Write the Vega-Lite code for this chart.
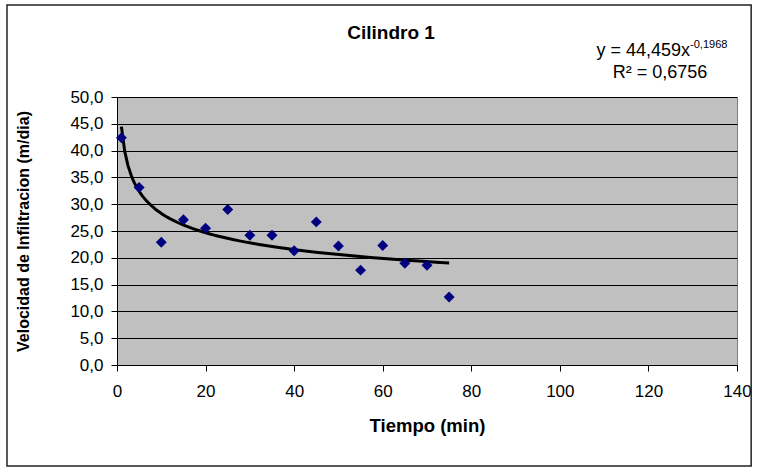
{
  "$schema": "https://vega.github.io/schema/vega-lite/v6.json",
  "width": 620,
  "height": 268,
  "autosize": {"type": "none"},
  "padding": {"left": 117, "top": 97, "right": 20, "bottom": 103},
  "background": "white",
  "config": {
    "font": "Liberation Sans",
    "locale": {"number": {"decimal": ",", "thousands": ".", "grouping": [3], "currency": ["", " €"]}},
    "view": {"fill": "#C0C0C0", "stroke": "#808080", "strokeWidth": 1}
  },
  "datasets": {
    "obs": [
      {"t": 1, "v": 42.4},
      {"t": 5, "v": 33.1},
      {"t": 10, "v": 22.9},
      {"t": 15, "v": 27.1},
      {"t": 20, "v": 25.5},
      {"t": 25, "v": 29.0},
      {"t": 30, "v": 24.2},
      {"t": 35, "v": 24.2},
      {"t": 40, "v": 21.3},
      {"t": 45, "v": 26.7},
      {"t": 50, "v": 22.2},
      {"t": 55, "v": 17.7},
      {"t": 60, "v": 22.3},
      {"t": 65, "v": 19.0},
      {"t": 70, "v": 18.6},
      {"t": 75, "v": 12.7}
    ]
  },
  "layer": [
    {
      "data": {"name": "obs"},
      "transform": [{"regression": "v", "on": "t", "method": "pow", "extent": [1, 75]}],
      "mark": {"type": "line", "color": "black", "strokeWidth": 3},
      "encoding": {
        "x": {
          "field": "t", "type": "quantitative",
          "scale": {"domain": [0, 140], "nice": false, "zero": false},
          "axis": {
            "title": "Tiempo (min)",
            "values": [0, 20, 40, 60, 80, 100, 120, 140],
            "tickCount": 50,
            "format": "d",
            "grid": false,
            "domainColor": "black", "domainWidth": 1,
            "tickColor": "black", "tickSize": 6, "tickWidth": 1,
            "labelFont": "Liberation Sans", "labelFontSize": 17, "labelColor": "black",
            "labelPadding": 12, "labelFlush": false, "labelOverlap": false,
            "titleFont": "Liberation Sans", "titleFontSize": 18.5, "titleFontWeight": "bold",
            "titleColor": "black", "titlePadding": 17
          }
        },
        "y": {
          "field": "v", "type": "quantitative",
          "scale": {"domain": [0, 50], "nice": false},
          "axis": {
            "title": "Velocidad de Infiltracion (m/dia)",
            "values": [0, 5, 10, 15, 20, 25, 30, 35, 40, 45, 50],
            "tickCount": 50,
            "format": ".1f",
            "grid": true, "gridColor": "black", "gridOpacity": 1, "gridWidth": 1,
            "domainColor": "black", "domainWidth": 1,
            "tickColor": "black", "tickSize": 6, "tickWidth": 1,
            "labelFont": "Liberation Sans", "labelFontSize": 17, "labelColor": "black",
            "labelPadding": 8, "labelOverlap": false, "labelFlush": false,
            "titleFont": "Liberation Sans", "titleFontSize": 16, "titleFontWeight": "bold",
            "titleColor": "black", "titlePadding": 38
          }
        }
      }
    },
    {
      "data": {"name": "obs"},
      "mark": {"type": "point", "shape": "diamond", "filled": true, "color": "#000080", "size": 120, "opacity": 1},
      "encoding": {
        "x": {"field": "t", "type": "quantitative"},
        "y": {"field": "v", "type": "quantitative"}
      }
    },
    {
      "data": {"values": [{}]},
      "mark": {"type": "text", "text": "Cilindro 1", "font": "Liberation Sans", "fontSize": 19, "fontWeight": "bold", "align": "center", "baseline": "alphabetic", "color": "black"},
      "encoding": {"x": {"datum": 61.9, "type": "quantitative"}, "y": {"datum": 60.82, "type": "quantitative"}}
    },
    {
      "data": {"values": [{}]},
      "mark": {"type": "text", "text": "y = 44,459x", "font": "Liberation Sans", "fontSize": 18, "align": "right", "baseline": "alphabetic", "color": "black"},
      "encoding": {"x": {"datum": 129.4, "type": "quantitative"}, "y": {"datum": 57.65, "type": "quantitative"}}
    },
    {
      "data": {"values": [{}]},
      "mark": {"type": "text", "text": "-0,1968", "font": "Liberation Sans", "fontSize": 11, "align": "left", "baseline": "alphabetic", "color": "black"},
      "encoding": {"x": {"datum": 129.4, "type": "quantitative"}, "y": {"datum": 59.14, "type": "quantitative"}}
    },
    {
      "data": {"values": [{}]},
      "mark": {"type": "text", "text": "R² = 0,6756", "font": "Liberation Sans", "fontSize": 18, "align": "center", "baseline": "alphabetic", "color": "black"},
      "encoding": {"x": {"datum": 122.6, "type": "quantitative"}, "y": {"datum": 53.54, "type": "quantitative"}}
    },
    {
      "data": {"values": [{}]},
      "mark": {"type": "rect", "fill": null, "fillOpacity": 0, "stroke": "#222222", "strokeWidth": 1.5},
      "encoding": {
        "x": {"datum": -24.84, "type": "quantitative"},
        "x2": {"datum": 143.2},
        "y": {"datum": 67.16, "type": "quantitative"},
        "y2": {"datum": -18.84}
      }
    }
  ]
}
